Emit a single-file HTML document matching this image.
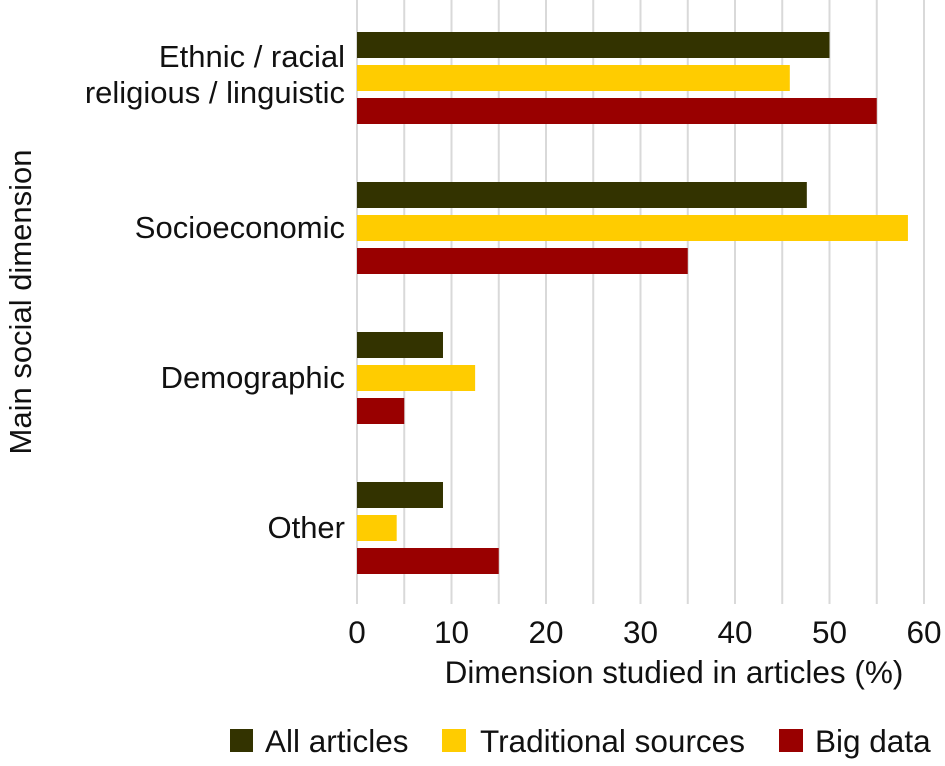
<!DOCTYPE html>
<html><head><meta charset="utf-8"><style>
body{margin:0;background:#fff;font-family:"Liberation Sans",sans-serif}
</style></head><body>
<svg width="945" height="761" viewBox="0 0 945 761" font-family="Liberation Sans, sans-serif">
<g id="grid"></g><g id="bars"></g><g id="labels"></g>
<text x="674" y="683" font-size="31.5" text-anchor="middle" fill="#111">Dimension studied in articles (%)</text>
<text transform="translate(31,302) rotate(-90)" font-size="31" text-anchor="middle" fill="#111">Main social dimension</text>
<g font-size="31.5" fill="#111">
<rect x="230" y="729" width="23" height="23" fill="#333300"/>
<text x="265" y="752">All articles</text>
<rect x="442" y="729" width="24" height="23" fill="#ffcc00"/>
<text x="480" y="752">Traditional sources</text>
<rect x="779" y="729" width="24" height="23" fill="#990000"/>
<text x="815" y="752">Big data</text>
</g>
</svg>
<script>
const categories=[["Ethnic / racial","religious / linguistic"],["Socioeconomic"],["Demographic"],["Other"]];
const allArticles=[50,47.6,9.1,9.1];
const traditional=[45.8,58.3,12.5,4.2];
const bigData=[55,35,5,15];
const ticks=[0,10,20,30,40,50,60];
const NS="http://www.w3.org/2000/svg";
const x0=357,pxPer=9.45;
const xs=v=>x0+v*pxPer;
function mk(t,a,p){const e=document.createElementNS(NS,t);for(const k in a)e.setAttribute(k,a[k]);p.appendChild(e);return e;}
const grid=document.getElementById('grid'),bars=document.getElementById('bars'),labels=document.getElementById('labels');
for(let v=0;v<=60;v+=5){const l=mk('line',{x1:xs(v),x2:xs(v),y1:0,y2:604,stroke:'#d9d9d9','stroke-width':2},grid);

}
ticks.forEach(t=>{const e=mk('text',{x:xs(t),y:643,'font-size':31.5,'text-anchor':'middle',fill:'#111'},labels);e.textContent=t;

});
const series=[[allArticles,'#333300','all'],[traditional,'#ffcc00','traditional'],[bigData,'#990000','bigdata']];
categories.forEach((c,i)=>{const top=32+i*150;
series.forEach((s,j)=>{const r=mk('rect',{x:x0,y:top+j*33,width:s[0][i]*pxPer,height:26,fill:s[1]},bars);

});
const cy=top+45;
const off=c.length>1?8:11;
c.forEach((ln,k)=>{const e=mk('text',{x:345,y:cy+off+(k-(c.length-1)/2)*36,'font-size':31,'text-anchor':'end',fill:'#111'},labels);e.textContent=ln;

});});
</script>
</body></html>
